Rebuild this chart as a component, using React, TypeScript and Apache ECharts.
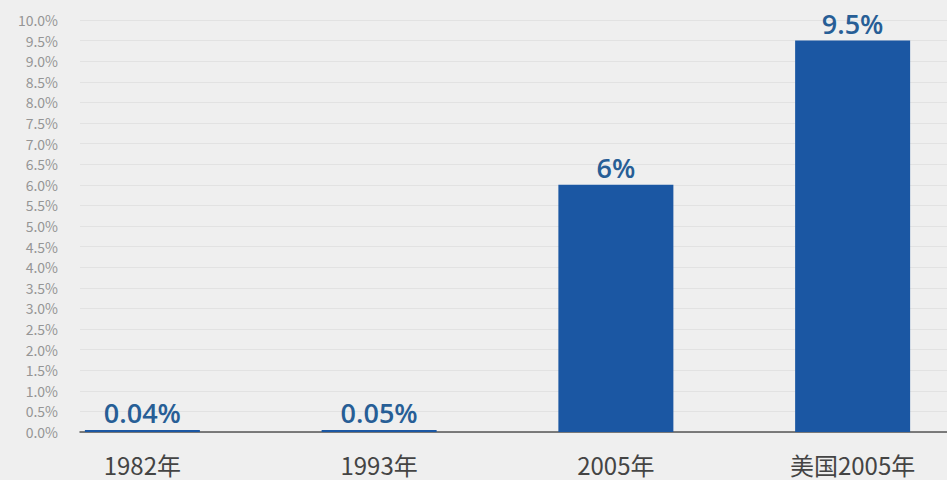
import React, { useEffect, useRef } from "react";
import * as echarts from "echarts";

const categories = ["1982年", "1993年", "2005年", "美国2005年"];
const values = [0.04, 0.05, 6, 9.5];
const labels = ["0.04%", "0.05%", "6%", "9.5%"];

export default function App() {
  const ref = useRef<HTMLDivElement>(null);
  useEffect(() => {
    const chart = echarts.init(ref.current!, null, { renderer: "svg" });
    const font = "'Noto Sans CJK SC', 'Noto Sans', sans-serif";
    chart.setOption({
      animation: false,
      backgroundColor: "#efefef",
      grid: [
        { left: 80, right: 0, top: 20, bottom: 48, outerBoundsMode: "none" },
        { left: 24, width: 947, top: 20, bottom: 48, outerBoundsMode: "none" },
      ],
      xAxis: [
        {
          gridIndex: 0,
          type: "category",
          data: categories,
          axisLine: { show: true, lineStyle: { color: "#555", width: 1.5 } },
          axisTick: { show: false },
          axisLabel: { show: false },
        },
        {
          gridIndex: 1,
          type: "category",
          data: categories,
          axisLine: { show: false },
          axisTick: { show: false },
          axisLabel: {
            color: "#444",
            fontSize: 24,
            lineHeight: 24,
            fontFamily: font,
            margin: 20,
          },
        },
      ],
      yAxis: [
        {
          gridIndex: 0,
          type: "value",
          min: 0,
          max: 10,
          interval: 0.5,
          axisLine: { show: false },
          axisTick: { show: false },
          axisLabel: {
            color: "#959595",
            fontSize: 14,
            fontFamily: font,
            margin: 22,
            formatter: (v: number) => v.toFixed(1) + "%",
          },
          splitLine: { lineStyle: { color: "#e2e2e2", width: 1 } },
        },
        {
          gridIndex: 1,
          type: "value",
          min: 0,
          max: 10,
          interval: 0.5,
          show: false,
          splitLine: { show: false },
        },
      ],
      series: [
        {
          type: "bar",
          xAxisIndex: 1,
          yAxisIndex: 1,
          data: values,
          barWidth: 115,
          barMinHeight: 2,
          itemStyle: { color: "#1b57a3" },
          label: {
            show: true,
            position: "top",
            distance: 4,
            color: "#275e96",
            fontSize: 27,
            fontWeight: 600,
            fontFamily: "'Open Sans', 'Noto Sans', sans-serif",
            formatter: (p: any) => labels[p.dataIndex],
          },
        },
      ],
    });
    return () => chart.dispose();
  }, []);
  return (
    <div
      ref={ref}
      style={{ position: "fixed", left: 0, top: 0, width: 947, height: 480 }}
    />
  );
}
